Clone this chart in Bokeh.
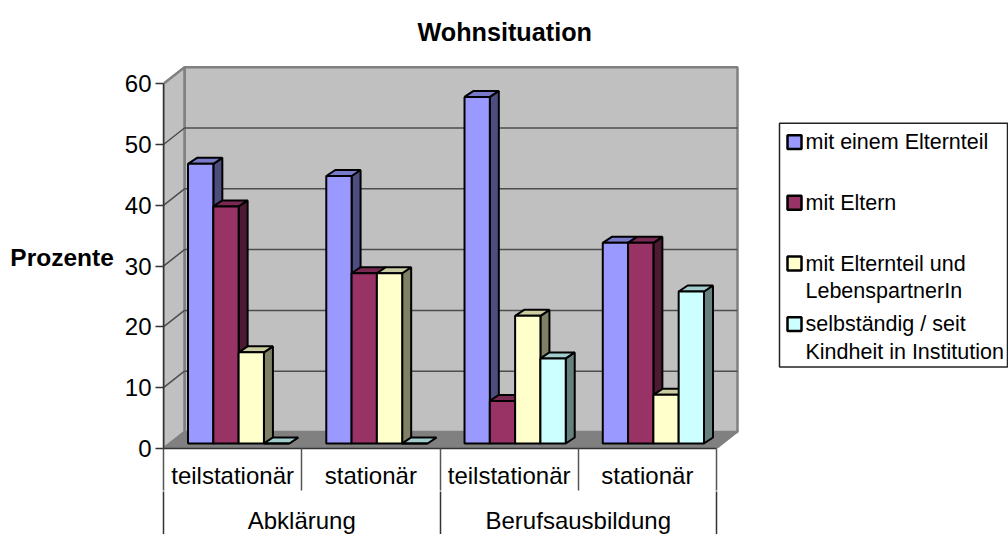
from bokeh.embed import file_html
from bokeh.resources import INLINE
from bokeh.plotting import figure
from bokeh.layouts import row
from bokeh.core.properties import value
from bokeh.models import Range1d, LinearAxis, FixedTicker, Title

groups = ["Abklärung", "Berufsausbildung"]
subcats = ["teilstationär", "stationär", "teilstationär", "stationär"]
series = ["mit einem Elternteil", "mit Eltern", "mit Elternteil und\nLebenspartnerIn",
          "selbständig / seit\nKindheit in Institution"]
v_einem = [46, 44, 57, 33]
v_eltern = [39, 28, 7, 33]
v_partner = [15, 28, 21, 8]
v_selbst = [0, 0, 14, 25]
values = [v_einem, v_eltern, v_partner, v_selbst]
front = ["#9999FF", "#993366", "#FFFFCC", "#CCFFFF"]
side = ["#4D4D80", "#4D1A33", "#808066", "#668080"]
top = ["#7A7ACC", "#7A2952", "#CCCCA3", "#A3CCCC"]
yticks = [0, 10, 20, 30, 40, 50, 60]

# layout in pixels of the page
L, R, T, B = 163, 741, 64, 447
PX_X = 138.25   # pixels per category
PX_Y = 6.08     # pixels per percent
W1, W2, H = 770, 238, 534
FS = "24px"

x_end = (R - L) / PX_X
y_end = (B - T) / PX_Y
DX = 21.0 / PX_X   # wall depth
DY = 16.5 / PX_Y
BX = 6.0 / PX_X    # front of bars from the front of the floor
BY = 5.0 / PX_Y
BDX = 9.0 / PX_X   # depth of one bar
BDY = 6.0 / PX_Y
BW = 25.3 / PX_X   # width of one bar

p = figure(width=W1, height=H, output_backend="svg", toolbar_location=None,
           x_range=Range1d(0, x_end), y_range=Range1d(0, y_end),
           x_axis_location=None, y_axis_location=None,
           frame_width=R - L, frame_height=B - T,
           min_border_left=L, min_border_right=W1 - R,
           min_border_top=T, min_border_bottom=H - B,
           background_fill_color="white", border_fill_color="white", outline_line_color=None)
p.grid.visible = False

n = len(subcats)
top_v = yticks[-1]
WALL = "#C0C0C0"; EDGE = "#808080"; GRID = "#4D4D4D"
# walls and floor
p.patch([DX, n + DX, n + DX, DX], [DY, DY, top_v + DY, top_v + DY],
        fill_color=WALL, line_color=EDGE, line_width=2.5)
p.patch([0, DX, DX, 0], [0, DY, top_v + DY, top_v], fill_color=WALL, line_color=EDGE, line_width=2.5)
p.patch([0, n, n + DX, DX], [0, 0, DY, DY], fill_color="#808080", line_color=EDGE, line_width=1.5)
# grid lines on the side wall and the back wall
gx = [[0, DX, n + DX] for t in yticks[1:-1]]
gy = [[t, t + DY, t + DY] for t in yticks[1:-1]]
p.multi_line(gx, gy, line_color=GRID, line_width=1.5)

for s in range(len(series)):
    xl = [i + (1 - 4 * BW) / 2 + BX + s * BW for i in range(n)]
    xr = [x + BW for x in xl]
    vals = values[s]
    y0 = [BY] * n
    y1 = [BY + v for v in vals]
    p.patches([[r, r + BDX, r + BDX, r] for r in xr],
              [[a, a + BDY, b + BDY, b] for a, b in zip(y0, y1)],
              fill_color=side[s], line_color="black", line_width=2)
    p.patches([[l, r, r + BDX, l + BDX] for l, r in zip(xl, xr)],
              [[b, b, b + BDY, b + BDY] for b in y1],
              fill_color=top[s], line_color="black", line_width=2)
    p.quad(left=xl, right=xr, bottom=y0, top=y1,
           fill_color=front[s], line_color="black", line_width=2)

# y axis
ya = LinearAxis(ticker=FixedTicker(ticks=yticks), bounds=(0, top_v),
                axis_label="Prozente", axis_label_orientation="horizontal",
                axis_label_text_font="Liberation Sans", axis_label_text_font_style="bold",
                axis_label_text_font_size="24.5px", axis_label_text_color="black",
                axis_label_text_baseline="top", axis_label_text_line_height=1.0,
                axis_label_standoff=8,
                major_label_text_font="Liberation Sans", major_label_text_font_size=FS,
                major_label_text_color="black", major_label_standoff=4,
                major_tick_out=8, major_tick_in=0, minor_tick_out=0, minor_tick_in=0,
                axis_line_color="#333333", axis_line_width=1.5,
                major_tick_line_color="#333333", major_tick_line_width=1.5)
p.add_layout(ya, "left")

# first level of the category axis
centres = [i + 0.5 for i in range(n)]
xa = LinearAxis(ticker=FixedTicker(ticks=centres, minor_ticks=list(range(n + 1))),
                bounds=(0, n),
                major_label_overrides={c: s for c, s in zip(centres, subcats)},
                major_label_text_font="Liberation Sans", major_label_text_font_size=FS,
                major_label_text_color="black", major_label_standoff=-29,
                major_tick_out=0, major_tick_in=0, minor_tick_out=42, minor_tick_in=0,
                minor_tick_line_color="#555555", minor_tick_line_width=1.5,
                axis_line_color="#333333", axis_line_width=1.5)
p.add_layout(xa, "below")
# second level of the category axis
mids = [1, 3]
xb = LinearAxis(ticker=FixedTicker(ticks=mids, minor_ticks=[0, 2, 4]), bounds=(0, n),
                major_label_overrides={c: s for c, s in zip(mids, groups)},
                major_label_text_font="Liberation Sans", major_label_text_font_size=FS,
                major_label_text_color="black", major_label_standoff=-29,
                major_tick_out=0, major_tick_in=0, minor_tick_out=44, minor_tick_in=0,
                minor_tick_line_color="#333333", minor_tick_line_width=1.5,
                axis_line_color=None)
p.add_layout(xb, "below")

p.title = Title(text="Wohnsituation", align="left", offset=254, vertical_align="top",
                text_font="Liberation Sans", text_font_style="bold",
                text_font_size="25.2px", text_color="black", standoff=35)

# legend panel: its ranges run in page pixels (the row gives it the same frame height as the chart)
lf = figure(width=W2, height=H, output_backend="svg", toolbar_location=None,
            x_range=Range1d(W1, W1 + W2), y_range=Range1d(B, T),
            x_axis_location=None, y_axis_location=None,
            min_border=0, outline_line_color=None, border_fill_color="white")
lf.grid.visible = False
lf.quad(left=[779], right=[1007], top=[122], bottom=[367],
        fill_color="white", line_color="#222222", line_width=1.5)
rows = [141 + 61 * i for i in range(len(series))]
lf.quad(left=[787] * 4, right=[801] * 4,
        top=[r - 7 for r in rows], bottom=[r + 7 for r in rows],
        fill_color=front, line_color="black", line_width=2.5)
lf.text(x=[805] * 4, y=[r - 12 for r in rows], text=series,
        text_font=value("Liberation Sans"), text_font_size=value("21.5px"),
        text_color="black", text_baseline="top", text_align="left", text_line_height=1.16)

open("out.html", "w").write(file_html(row(p, lf), INLINE))
